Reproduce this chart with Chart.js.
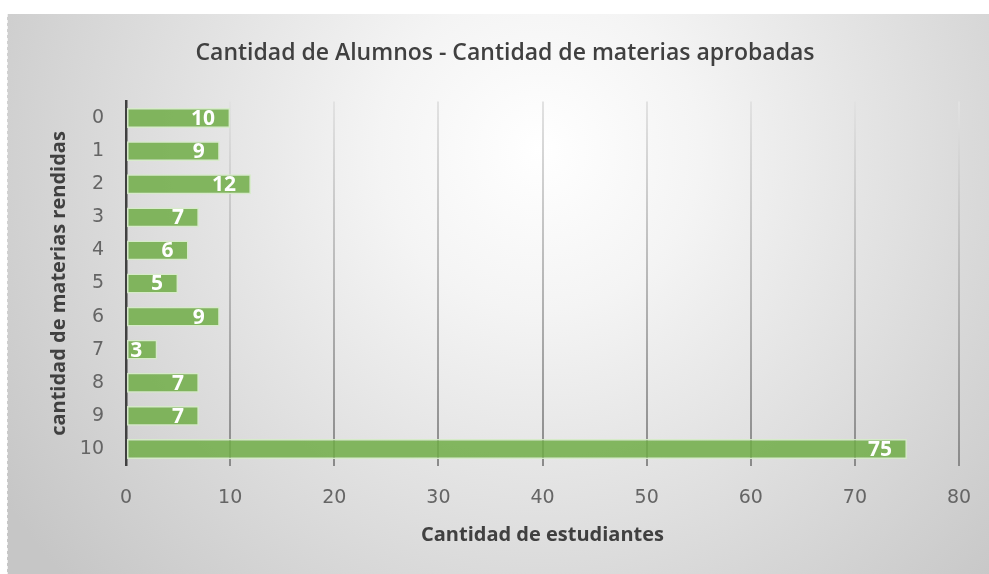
<!DOCTYPE html>
<html>
<head>
<meta charset="utf-8">
<script src="https://cdn.jsdelivr.net/npm/chart.js@4.4.1/dist/chart.umd.min.js"></script>
<style>
  html, body { margin: 0; padding: 0; background: #ffffff; }
  #wrap { position: relative; width: 989px; height: 574px; }
  canvas { display: block; }
</style>
</head>
<body>
<div id="wrap"><canvas id="c" width="989" height="574"></canvas></div>
<script>
const categories = ['0', '1', '2', '3', '4', '5', '6', '7', '8', '9', '10'];
const studentCounts = [10, 9, 12, 7, 6, 5, 9, 3, 7, 7, 75];
const xTicks = [0, 10, 20, 30, 40, 50, 60, 70, 80];

const chartTitle = 'Cantidad de Alumnos - Cantidad de materias aprobadas';
const xTitle = 'Cantidad de estudiantes';
const yTitle = 'cantidad de materias rendidas';

const FONT = "'Open Sans', 'Liberation Sans', sans-serif";
const TICK_FONT = "'DejaVu Sans', 'Open Sans', sans-serif";

const backgroundPlugin = {
  id: 'frameBackground',
  beforeDraw(chart) {
    const ctx = chart.ctx;
    ctx.save();
    const g = ctx.createRadialGradient(540, 150, 0, 540, 150, 640);
    g.addColorStop(0, '#ffffff');
    g.addColorStop(0.25, '#f4f4f4');
    g.addColorStop(1, '#c6c6c6');
    ctx.fillStyle = g;
    ctx.fillRect(7, 14, chart.width - 7, chart.height - 14);
    ctx.strokeStyle = 'rgba(255,255,255,0.7)';
    ctx.lineWidth = 1;
    ctx.setLineDash([3, 3]);
    ctx.beginPath();
    ctx.moveTo(7.5, 14);
    ctx.lineTo(7.5, chart.height);
    ctx.stroke();
    ctx.restore();
  }
};

const titlePlugin = {
  id: 'chartTitleText',
  afterDraw(chart) {
    const ctx = chart.ctx;
    ctx.save();
    ctx.fillStyle = '#404040';
    ctx.font = "600 23px " + FONT;
    ctx.textAlign = 'center';
    ctx.textBaseline = 'middle';
    ctx.fillText(chartTitle, 505, 53);
    ctx.restore();
  }
};

const valueLabelPlugin = {
  id: 'valueLabels',
  afterDatasetsDraw(chart) {
    const ctx = chart.ctx;
    const meta = chart.getDatasetMeta(0);
    ctx.save();
    ctx.fillStyle = '#ffffff';
    ctx.font = "bold 21px " + FONT;
    ctx.textAlign = 'right';
    ctx.textBaseline = 'middle';
    meta.data.forEach((bar, i) => {
      ctx.fillText(String(chart.data.datasets[0].data[i]), bar.x - 15, bar.y + 1);
    });
    ctx.restore();
  }
};

function gridGradient(context) {
  const chart = context.chart;
  const area = chart.chartArea;
  if (!area) return '#b0b0b0';
  const g = chart.ctx.createLinearGradient(0, area.top, 0, area.bottom);
  g.addColorStop(0, '#e2e2e2');
  g.addColorStop(1, '#8a8a8a');
  return g;
}

new Chart(document.getElementById('c'), {
  type: 'bar',
  data: {
    labels: categories,
    datasets: [{
      data: studentCounts,
      backgroundColor: 'rgba(112,173,71,0.85)',
      borderColor: 'rgba(214,235,200,0.95)',
      borderWidth: 1.5,
      borderSkipped: false,
      barPercentage: 0.6,
      categoryPercentage: 1.0
    }]
  },
  options: {
    indexAxis: 'y',
    responsive: false,
    animation: false,
    devicePixelRatio: 1,
    layout: { padding: { left: 0, right: 30, top: 101.5, bottom: 0 } },
    plugins: {
      legend: { display: false },
      tooltip: { enabled: false },
      title: { display: false }
    },
    scales: {
      x: {
        type: 'linear',
        min: 0,
        max: 80,
        afterBuildTicks(scale) { scale.ticks = xTicks.map(v => ({ value: v })); },
        afterFit(scale) {
          scale.height = 108.5;
          scale.paddingRight = 0;
          scale.paddingLeft = 0;
        },
        ticks: {
          color: '#656565',
          font: { family: TICK_FONT, size: 19 },
          padding: 21
        },
        grid: {
          color: gridGradient,
          lineWidth: 2,
          drawTicks: false
        },
        border: { display: false },
        title: {
          display: true,
          text: xTitle,
          color: '#404040',
          font: { family: FONT, size: 20, weight: 'bold' },
          padding: { top: 0, bottom: 27 }
        }
      },
      y: {
        type: 'category',
        afterFit(scale) { scale.width = 126; },
        ticks: {
          color: '#656565',
          font: { family: TICK_FONT, size: 19 },
          padding: 22
        },
        grid: { display: false, drawTicks: false },
        border: { display: true, color: '#404040', width: 2.5 },
        title: {
          display: true,
          text: yTitle,
          color: '#404040',
          font: { family: FONT, size: 20, weight: 'bold' },
          padding: { top: 47, bottom: 0 }
        }
      }
    }
  },
  plugins: [backgroundPlugin, valueLabelPlugin, titlePlugin]
});
</script>
</body>
</html>
